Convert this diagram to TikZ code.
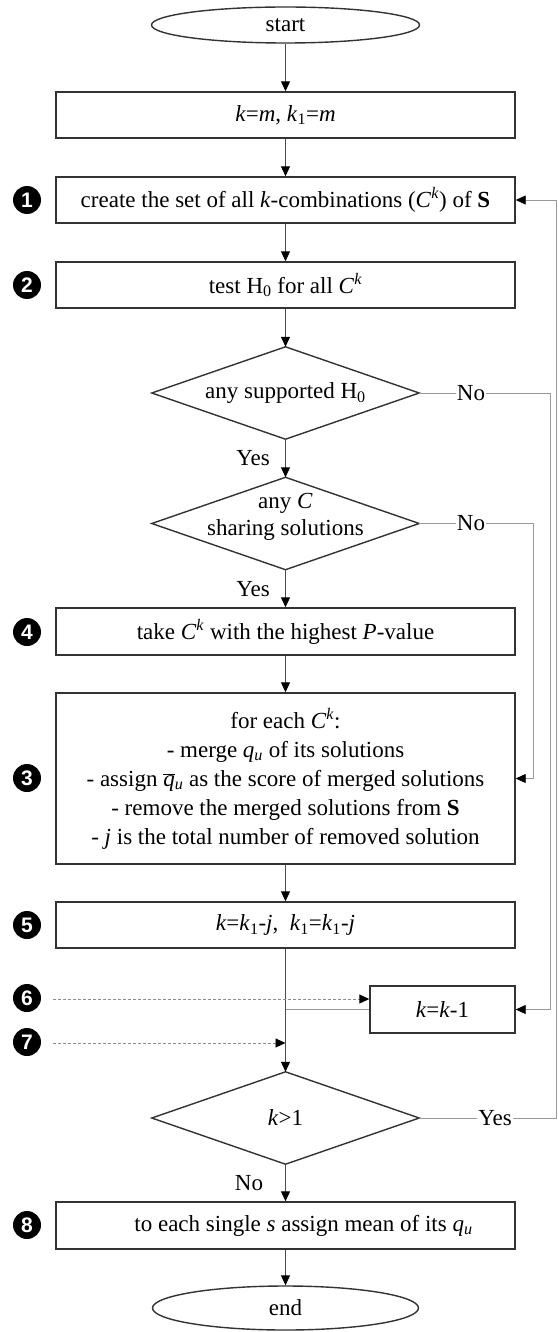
\documentclass[tikz,border=0pt]{standalone}
\usepackage{fontspec}
\setmainfont{Liberation Serif}
\newfontfamily\bulletfont{Liberation Sans}
\usetikzlibrary{shapes.geometric,arrows.meta,calc}
\begin{document}
\begin{tikzpicture}[x=1pt,y=-1pt,
  every node/.style={font=\fontsize{23}{27}\selectfont},
  procbox/.style={draw=black!80, line width=1.4pt, rectangle, minimum width=459pt, minimum height=46pt, inner sep=0pt, align=center},
  term/.style={draw=black!80, line width=1.4pt, ellipse, minimum width=268pt, minimum height=36pt, inner sep=0pt},
  decbox/.style={rectangle, minimum width=267pt, minimum height=92pt, inner sep=0pt, align=center},
  decline/.style={draw=black!80, line width=1.4pt, line join=miter},
  flow/.style={draw=black!70, line width=1pt, -{Triangle[length=10pt,width=9pt,color=black]}},
  loopline/.style={draw=black!40, line width=0.9pt},
  tip/.style={-{Triangle[length=10pt,width=9pt,color=black]}},
  hint/.style={draw=black!45, line width=0.9pt, dash pattern=on 3pt off 2pt},
  bullet/.style={circle, fill=black, text=white, minimum size=28pt, inner sep=0pt, font=\bulletfont\bfseries\fontsize{21}{21}\selectfont},
  lab/.style={inner sep=1pt, fill=white},
  plainlab/.style={inner sep=1pt},
]
\useasboundingbox (0,0) rectangle (557,1332);
\fill[white] (0,0) rectangle (557,1332);

% nodes
\node[term] (start) at (285.5,25) {start};
\node[procbox] (b1) at (285.5,115) {\textit{k}=\textit{m}, \textit{k}\textsubscript{1}=\textit{m}};
\node[procbox] (b2) at (285.5,200) {create the set of all \textit{k}-combinations (\textit{C}\textsuperscript{\textit{k}}) of \textbf{S}};
\node[procbox] (b3) at (285.5,285) {test H\textsubscript{0} for all \textit{C}\textsuperscript{\textit{k}}};
\node[decbox] (d1) at (285.5,393) {any supported H\textsubscript{0}};
\node[decbox] (d2) at (285.5,523.5) {};
\node[align=center] (d2t) at (285.5,517) {any \textit{C}\\sharing solutions};
\node[procbox, minimum height=47pt] (b4) at (285.5,631.5) {take \textit{C}\textsuperscript{\textit{k}} with the highest \textit{P}-value};
\node[procbox, minimum height=171pt, font=\fontsize{23}{29}\selectfont] (b5) at (285.5,778.5) {for each \textit{C}\textsuperscript{\textit{k}}:\\- merge \textit{q}\textsubscript{\textit{u}} of its solutions\\- assign $\overline{\mbox{\textit{q}}}$\textsubscript{\textit{u}} as the score of merged solutions\\- remove the merged solutions from \textbf{S}\\- \textit{j} is the total number of removed solution};
\node[procbox] (b6) at (285.5,925) {\textit{k}=\textit{k}\textsubscript{1}-\textit{j}, \ \textit{k}\textsubscript{1}=\textit{k}\textsubscript{1}-\textit{j}};
\node[procbox, minimum width=145pt, minimum height=47pt] (bk) at (442.5,1009.5) {\textit{k}=\textit{k}-1};
\node[decbox] (d3) at (285.5,1118) {\textit{k}>1};
\node[procbox, minimum height=47pt] (b8) at (285.5,1225.5) {\hspace*{36pt}to each single \textit{s} assign mean of its \textit{q}\textsubscript{\textit{u}}};
\node[term, minimum width=266pt, minimum height=44pt] (stop) at (285.5,1308) {end};

% diamonds
\foreach \d in {d1,d2,d3}{
  \draw[decline] (\d.north) -- (\d.east) -- (\d.south) -- (\d.west) -- cycle;
}

% bullets
\node[bullet] (n1) at (27,200) {1};
\node[bullet] (n2) at (27,285) {2};
\node[bullet] (n4) at (27,632) {4};
\node[bullet] (n3) at (27,778) {3};
\node[bullet] (n5) at (27,925) {5};
\node[bullet] (n6) at (27,998) {6};
\node[bullet] (n7) at (27,1042) {7};
\node[bullet] (n8) at (27,1225) {8};

% main flow
\draw[flow] (start) -- (b1);
\draw[flow] (b1) -- (b2);
\draw[flow] (b2) -- (b3);
\draw[flow] (b3) -- (d1.north);
\draw[flow] (d1.south) -- (d2.north);
\draw[flow] (d2.south) -- (b4);
\draw[flow] (b4) -- (b5);
\draw[flow] (b5) -- (b6);
\draw[flow] (b6) -- (d3.north);
\draw[flow] (d3.south) -- (b8);
\draw[flow] (b8) -- (stop);

\node[plainlab] (y1) at (253,458) {Yes};
\node[plainlab] (y2) at (253,589) {Yes};
\node[plainlab] (n3l) at (249,1183) {No};

% k=k-1 joins main line
\coordinate (j) at (285.5,1009.5);
\draw[loopline] (bk.west) -- (j);

% loops
\coordinate (r1) at (550,393);
\draw[loopline, tip] (d1.east) -- (r1) -- (r1 |- bk.east) -- (bk.east);
\node[lab] (no1) at (471,393) {No};
\coordinate (r2) at (533,523.5);
\draw[loopline, tip] (d2.east) -- (r2) -- (r2 |- b5.east) -- (b5.east);
\node[lab] (no2) at (471,523.5) {No};
\coordinate (r3) at (556.8,1118);
\draw[loopline, tip] (d3.east) -- (r3) -- (r3 |- b2.east) -- (b2.east);
\node[lab] (yes3) at (495,1118) {Yes};

% dashed hints
\coordinate (s6) at (53,999);
\draw[hint, tip] (s6) -- (bk.west |- s6);
\coordinate (s7) at (53,1043);
\draw[hint, tip] (s7) -- (j |- s7);
\end{tikzpicture}
\end{document}
